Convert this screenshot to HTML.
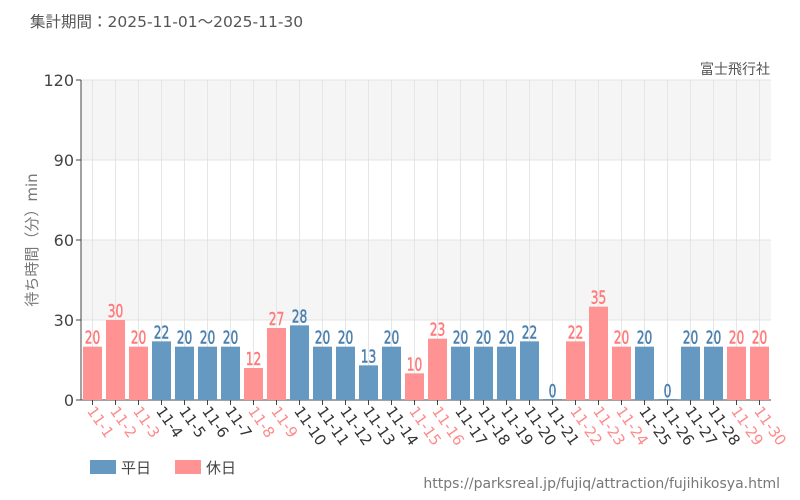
<!DOCTYPE html>
<html><head><meta charset="utf-8"><style>
body{margin:0;background:#fff;}
svg{display:block;font-family:"DejaVu Sans","Noto Sans CJK JP",sans-serif;}
</style></head><body>
<svg id="c" width="800" height="500">
<text x="30" y="27" font-size="15.5" fill="#555">集計期間：2025-11-01～2025-11-30</text>
<text x="770" y="74" font-size="14" fill="#555" text-anchor="end">富士飛行社</text>
<text transform="translate(37,240) rotate(-90)" font-size="15" fill="#777" text-anchor="middle">待ち時間（分）min</text>
<g>
<rect x="90" y="460" width="26" height="14" fill="#6699c2"/>
<text x="121" y="473" font-size="15" fill="#444">平日</text>
<rect x="175" y="460" width="26" height="14" fill="#ff9393"/>
<text x="206" y="473" font-size="15" fill="#444">休日</text>
</g>
<text x="780" y="488" font-size="14" fill="#777" text-anchor="end">https://parksreal.jp/fujiq/attraction/fujihikosya.html</text>
<g id="plot"></g>
</svg>
<script>
const categories=["11-1","11-2","11-3","11-4","11-5","11-6","11-7","11-8","11-9","11-10","11-11","11-12","11-13","11-14","11-15","11-16","11-17","11-18","11-19","11-20","11-21","11-22","11-23","11-24","11-25","11-26","11-27","11-28","11-29","11-30"];
const values=[20,30,20,22,20,20,20,12,27,28,20,20,13,20,10,23,20,20,20,22,0,22,35,20,20,0,20,20,20,20];
const holiday=[1,1,1,0,0,0,0,1,1,0,0,0,0,0,1,1,0,0,0,0,0,1,1,1,0,0,0,0,1,1];
const yTicks=[0,30,60,90,120];
const NS="http://www.w3.org/2000/svg";
const X0=81,X1=771,Y0=400,Y1=80,YMAX=120;
const slot=(X1-X0)/categories.length;
const y=v=>Y0-(v/YMAX)*(Y0-Y1);
const xc=i=>X0+slot*(i+0.5);
const g=document.getElementById('plot');
function mk(t,a){const e=document.createElementNS(NS,t);for(const k in a)e.setAttribute(k,a[k]);g.appendChild(e);return e;}
for(let i=0;i<yTicks.length-1;i++){
 if(i%2==1){const r=mk('rect',{x:X0,y:y(yTicks[i+1]),width:X1-X0,height:y(yTicks[i])-y(yTicks[i+1]),fill:'#f5f5f5'});
 
 }
}
for(let i=0;i<categories.length;i++){
 const l=mk('line',{x1:xc(i),x2:xc(i),y1:Y1,y2:Y0,stroke:'#e6e6e6'});
 
 
}
yTicks.forEach(t=>{
 const l=mk('line',{x1:X0-5,x2:X1,y1:y(t),y2:y(t),stroke:t==0?'#444':'#e3e3e3'});
 
 
 const tk=mk('line',{x1:X0-5,x2:X0,y1:y(t),y2:y(t),stroke:'#444'});
 
 
 const tx=mk('text',{x:X0-7,y:y(t)+6,'font-size':16,fill:'#444','text-anchor':'end'});
 tx.textContent=t;
 
 
});
const ax=mk('line',{x1:X0,x2:X0,y1:Y1,y2:Y0,stroke:'#444'});


categories.forEach((c,i)=>{
 const col=holiday[i]?'#ff9393':'#6699c2';
 const tcol=holiday[i]?'#ff7a7a':'#4a7fae';
 const bw=19;
 const h=Math.max(Y0-y(values[i]),1);
 const b=mk('rect',{x:xc(i)-bw/2,y:Y0-h,width:bw,height:h,fill:col});
 
 
 const v=mk('text',{transform:`translate(${xc(i)},${y(values[i])-3}) scale(0.68,1)`,'font-size':18,fill:tcol,'text-anchor':'middle',stroke:tcol,'stroke-width':0.5});
 v.textContent=values[i];
 
 
 const tk=mk('line',{x1:xc(i),x2:xc(i),y1:Y0,y2:Y0+5,stroke:'#444'});
 
 
 const lb=mk('text',{transform:`translate(${xc(i)-6},${Y0+11}) rotate(55)`,'font-size':15,fill:holiday[i]?'#ff8a8a':'#333'});
 lb.textContent=c;
 
 
});
</script>
</body></html>
